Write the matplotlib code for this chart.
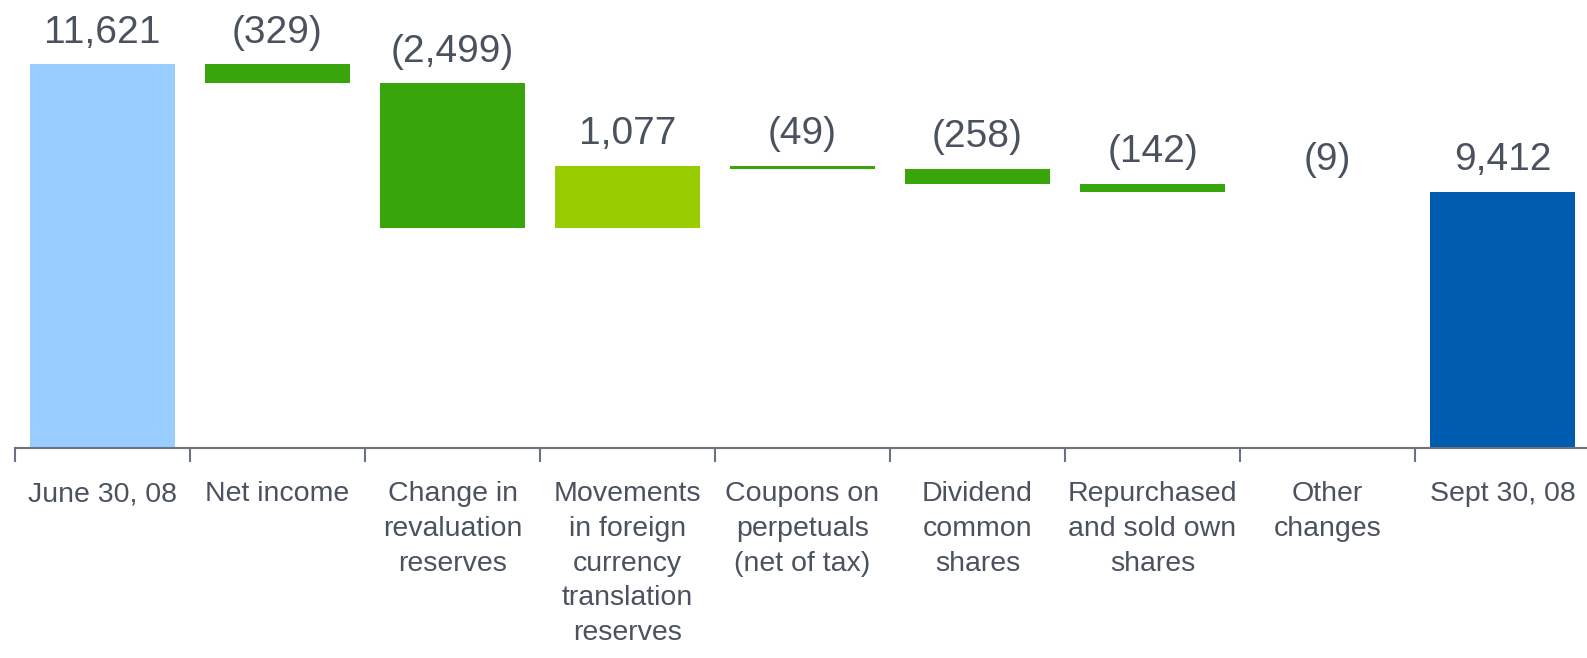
import matplotlib.pyplot as plt
import numpy as np

# Waterfall data (EUR m)
categories = ['June 30, 08', 'Net income', 'Change in\nrevaluation\nreserves',
              'Movements\nin foreign\ncurrency\ntranslation\nreserves',
              'Coupons on\nperpetuals\n(net of tax)', 'Dividend\ncommon\nshares',
              'Repurchased\nand sold own\nshares', 'Other\nchanges', 'Sept 30, 08']
start_value = 11621
changes = [-329, -2499, 1077, -49, -258, -142, -9]
end_value = 9412

text_color = '#4a5260'
colors = ['#99ccff'] + ['#38a50a' if c < 0 else '#99cc00' for c in changes] + ['#005cae']

# build bottoms/heights for the floating bars
y_min = 5000
bottoms = [y_min]
heights = [start_value - y_min]
running = start_value
for c in changes:
    new = running + c
    bottoms.append(min(running, new))
    heights.append(abs(c))
    running = new
bottoms.append(y_min)
heights.append(end_value - y_min)
labels = [f'{start_value:,}'] + [f'({-c:,})' if c < 0 else f'{c:,}' for c in changes] + [f'{end_value:,}']

plt.rcParams['font.family'] = ['Liberation Sans', 'DejaVu Sans']

fig = plt.figure(figsize=(15.87, 6.58), dpi=100)
ax = fig.add_axes([15 / 1587, 210 / 658, 1575 / 1587, 448 / 658])

x = np.arange(len(categories))
ax.bar(x, heights, bottom=bottoms, width=0.83, color=colors)

for xi, b, h, lab in zip(x, bottoms, heights, labels):
    ax.annotate(lab, (xi, b + h), xytext=(0, 10), textcoords='offset points',
                ha='center', va='bottom', fontsize=28, color=text_color)

ax.set_xlim(-0.5, len(categories) - 0.5)
ax.set_ylim(y_min, y_min + 448 * 17.26)

# category labels at centres, tick marks at the boundaries
ax.set_xticks(x)
ax.set_xticklabels(categories, fontsize=20.5, color=text_color, linespacing=1.43, va='top')
ax.tick_params(axis='x', which='major', length=0, pad=24)
ax.set_xticks(np.arange(-0.5, len(categories) - 1), minor=True)
ax.tick_params(axis='x', which='minor', length=10, width=1.5, color='#6b7280', direction='out')

ax.set_yticks([])
for side in ['top', 'right', 'left']:
    ax.spines[side].set_visible(False)
ax.spines['bottom'].set_color('#6b7280')
ax.spines['bottom'].set_linewidth(1.5)

plt.savefig('out.png', dpi=100)
plt.close()
